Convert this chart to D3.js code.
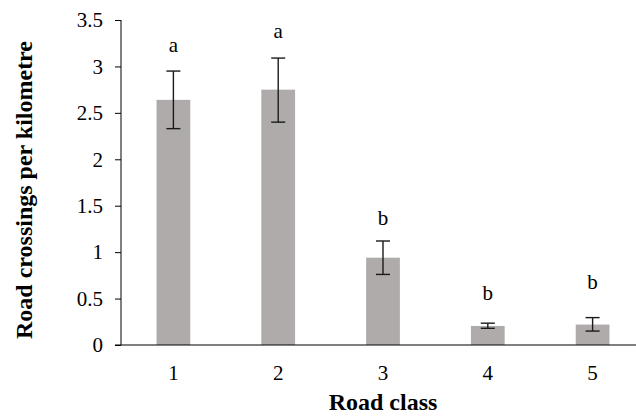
<!DOCTYPE html>
<html>
<head>
<meta charset="utf-8">
<script src="https://cdn.jsdelivr.net/npm/d3@7"></script>
<style>
  html, body { margin: 0; padding: 0; background: #fff; }
  svg text { font-family: "Liberation Serif", "Times New Roman", serif; fill: #000; }
</style>
</head>
<body>
<svg id="chartSVG" width="636" height="417"></svg>
<script>
// chart data
var roadClasses = ["1", "2", "3", "4", "5"];
var meanCrossings = [2.64, 2.75, 0.94, 0.205, 0.22];
var errLow = [2.33, 2.40, 0.76, 0.18, 0.15];
var errHigh = [2.95, 3.09, 1.12, 0.235, 0.295];
var groupLetters = ["a", "a", "b", "b", "b"];
var letterPos = [3.16, 3.31, 1.29, 0.48, 0.60];
var yTicks = [0, 0.5, 1, 1.5, 2, 2.5, 3, 3.5];

function drawChart() {
  var svg = d3.select("#chartSVG");

  var margin = { left: 121, right: 645, top: 20, bottom: 345 };

  var x = d3.scaleBand().domain(roadClasses).range([margin.left, margin.right]).paddingInner(0.678).paddingOuter(0.339);
  var y = d3.scaleLinear().domain([0, 3.5]).range([margin.bottom, margin.top]);

  var rows = roadClasses.map(function(c, i) {
    return { cls: c, val: meanCrossings[i], lo: errLow[i], hi: errHigh[i], letter: groupLetters[i], lpos: letterPos[i] };
  });

  // bars
  svg.append("g").selectAll("rect")
    .data(rows)
    .enter().append("rect")
    .attr("x", function(d) { return x(d.cls); })
    .attr("width", x.bandwidth())
    .attr("y", function(d) { return y(d.val); })
    .attr("height", function(d) { return y(0) - y(d.val); })
    .attr("fill", "#afabaa");

  // y axis
  var yAxis = svg.append("g")
    .attr("transform", "translate(" + margin.left + ",0)")
    .call(d3.axisLeft(y).tickValues(yTicks).tickSize(6).tickPadding(12).tickFormat(d3.format("")));
  yAxis.attr("font-family", null);
  yAxis.select(".domain").attr("d", "M0," + margin.top + "V" + margin.bottom).attr("stroke", "#000");
  yAxis.selectAll(".tick line").attr("stroke", "#000");
  yAxis.selectAll("text").style("font-size", "21px");

  // x axis
  var xAxis = svg.append("g")
    .attr("transform", "translate(0," + margin.bottom + ")")
    .call(d3.axisBottom(x).tickSize(0).tickPadding(20));
  xAxis.attr("font-family", null);
  xAxis.select(".domain").attr("d", "M" + (margin.left - 6) + ",0H" + margin.right).attr("stroke", "#000");
  xAxis.selectAll("text").style("font-size", "21px");

  // error bars
  var eb = svg.append("g").selectAll("g")
    .data(rows)
    .enter().append("g")
    .attr("stroke", "#1a1a1a")
    .attr("stroke-width", 1.4);
  eb.append("line")
    .attr("x1", function(d) { return x(d.cls) + x.bandwidth() / 2; })
    .attr("x2", function(d) { return x(d.cls) + x.bandwidth() / 2; })
    .attr("y1", function(d) { return y(d.lo); })
    .attr("y2", function(d) { return y(d.hi); });
  eb.selectAll("line.cap")
    .data(function(d) { return [d.lo, d.hi].map(function(v) { return { cls: d.cls, v: v }; }); })
    .enter().append("line")
    .attr("class", "cap")
    .attr("x1", function(d) { return x(d.cls) + x.bandwidth() / 2 - 7; })
    .attr("x2", function(d) { return x(d.cls) + x.bandwidth() / 2 + 7; })
    .attr("y1", function(d) { return y(d.v); })
    .attr("y2", function(d) { return y(d.v); });

  // significance letters
  svg.append("g").selectAll("text")
    .data(rows)
    .enter().append("text")
    .attr("x", function(d) { return x(d.cls) + x.bandwidth() / 2; })
    .attr("y", function(d) { return y(d.lpos); })
    .attr("text-anchor", "middle")
    .style("font-size", "21px")
    .text(function(d) { return d.letter; });

  // axis titles
  svg.append("text")
    .attr("x", (margin.left + margin.right) / 2)
    .attr("y", 410)
    .attr("text-anchor", "middle")
    .style("font-size", "24px")
    .style("font-weight", "bold")
    .text("Road class");

  svg.append("text")
    .attr("transform", "translate(32,190) rotate(-90)")
    .attr("text-anchor", "middle")
    .style("font-size", "24px")
    .style("font-weight", "bold")
    .text("Road crossings per kilometre");
}

drawChart();
</script>
</body>
</html>
